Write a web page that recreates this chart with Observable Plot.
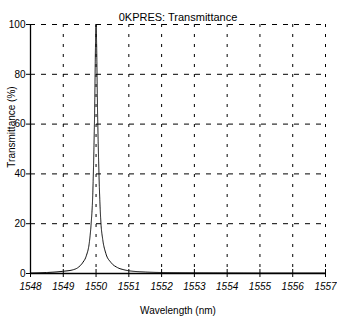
<!DOCTYPE html>
<html>
<head>
<meta charset="utf-8">
<script src="https://cdn.jsdelivr.net/npm/d3@7"></script>
<script src="https://cdn.jsdelivr.net/npm/@observablehq/plot@0.6"></script>
<style>
  html, body { margin: 0; padding: 0; background: #fff; }
  #chart { width: 337px; height: 320px; }
</style>
</head>
<body>
<div id="chart"></div>
<script>
const title = "0KPRES: Transmittance";
const xLabel = "Wavelength (nm)";
const yLabel = "Transmittance (%)";
const xTicks = [1548, 1549, 1550, 1551, 1552, 1553, 1554, 1555, 1556, 1557];
const yTicks = [0, 20, 40, 60, 80, 100];
const wavelength = [1548.0, 1548.5, 1549.0, 1549.3, 1549.45, 1549.6, 1549.7, 1549.8, 1549.85, 1549.9, 1549.95, 1550.0,
  1550.05, 1550.1, 1550.15, 1550.2, 1550.3, 1550.45, 1550.65, 1550.85, 1551.0, 1551.5, 1552, 1553, 1554, 1555, 1556, 1557];
const transmittance = [0.2, 0.4, 0.9, 1.5, 2.4, 4.5, 7, 13, 20, 32, 60, 100,
  62, 35, 20, 14, 8, 4.5, 2.4, 1.5, 1.1, 0.6, 0.4, 0.3, 0.25, 0.2, 0.2, 0.2];

const data = wavelength.map((w, i) => ({w, t: transmittance[i]}));
const font = "Liberation Sans, Arial, sans-serif";

const chart = Plot.plot({
  width: 337,
  height: 320,
  marginLeft: 30,
  marginRight: 12,
  marginTop: 24,
  marginBottom: 47,
  style: {fontFamily: font, fontSize: "10px", color: "#000", background: "#fff"},
  x: {type: "linear", domain: [1548, 1557]},
  y: {type: "linear", domain: [0, 100]},
  marks: [
    Plot.gridX(xTicks.slice(1), {stroke: "#000", strokeOpacity: 1, strokeWidth: 1, strokeDasharray: "3,7"}),
    Plot.gridY(yTicks.slice(1), {stroke: "#000", strokeOpacity: 1, strokeWidth: 1, strokeDasharray: "5,6"}),
    Plot.ruleX([1548], {stroke: "#000", strokeWidth: 1.3}),
    Plot.ruleY([0], {stroke: "#000", strokeWidth: 1.3}),
    Plot.axisY(yTicks, {tickSize: 4, tickPadding: 1, label: null, fontSize: 10}),
    Plot.axisX(xTicks, {tickSize: 4, tickPadding: 5, tickFormat: "d", label: null, fontSize: 10, fontStyle: "italic"}),
    Plot.ruleX(xTicks, {x: d => d, y1: 0, y2: 0, insetTop: -4, stroke: "#000", strokeWidth: 1}),
    Plot.line(data, {x: "w", y: "t", stroke: "#000", strokeWidth: 1, strokeDasharray: "1.2,0.8", curve: "monotone-x"}),
    Plot.text([title], {frameAnchor: "top", dy: -11, text: d => d, fontSize: 11}),
    Plot.text([yLabel], {frameAnchor: "left", textAnchor: "middle", dx: -19, dy: -22, rotate: -90, text: d => d, fontSize: 10}),
    Plot.text([xLabel], {frameAnchor: "bottom", dy: 40, text: d => d, fontSize: 10})
  ]
});
document.getElementById("chart").appendChild(chart);
</script>
</body>
</html>
